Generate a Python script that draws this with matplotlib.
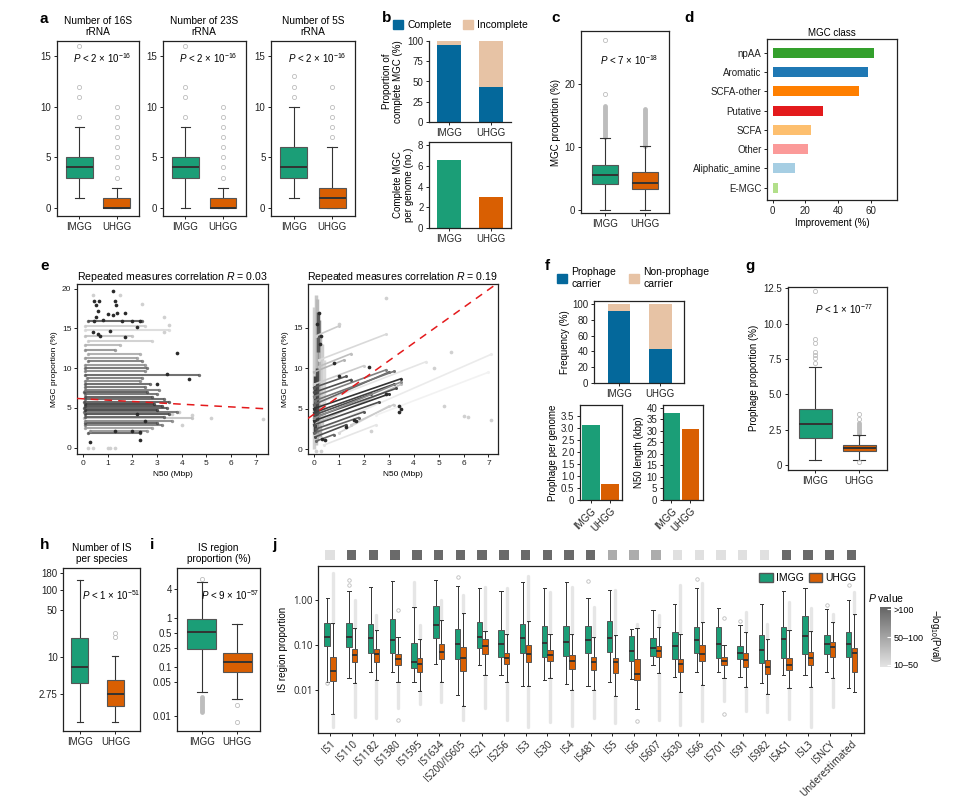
import numpy as np
import matplotlib
matplotlib.use("Agg")
import matplotlib.pyplot as plt
import matplotlib.transforms as mtransforms
from matplotlib.patches import Patch
from matplotlib.colors import LinearSegmentedColormap

plt.rcParams["font.family"] = ["Liberation Sans", "DejaVu Sans"]
plt.rcParams["font.size"] = 7
plt.rcParams["mathtext.fontset"] = "custom"
plt.rcParams["mathtext.rm"] = "Liberation Sans"
plt.rcParams["mathtext.it"] = "Liberation Sans:italic"

W, H = 967, 805
GREEN = "#1b9e77"
ORANGE = "#d95f02"
BLUE = "#04689b"
PEACH = "#e7c3a5"
FLIER = "#bdbdbd"
STREAK = "#e6e6e6"

groups = ["IMGG", "UHGG"]

# ---- a: rRNA copy numbers (whislo, q1, med, q3, whishi)
rrna_titles = ["Number of 16S\nrRNA", "Number of 23S\nrRNA", "Number of 5S\nrRNA"]
rrna_imgg = [(1, 3, 4, 5, 8), (0, 3, 4, 5, 8), (1, 3, 4, 6, 10)]
rrna_uhgg = [(0, 0, 0, 1, 2), (0, 0, 0, 1, 2), (0, 0, 1, 2, 6)]
rrna_imgg_fliers = [[9, 11, 12, 16], [9, 11, 12, 16], [11, 12, 13]]
rrna_uhgg_fliers = [[3, 4, 5, 6, 7, 8, 9, 10], [3, 4, 5, 6, 7, 8, 9, 10], [7, 8, 9, 10, 12]]

# ---- b: MGC completeness
mgc_complete_pct = [95, 43]
mgc_complete_per_genome = [6.55, 3.0]

# ---- c: MGC proportion
mgc_prop_imgg = (0.0, 4.1, 5.5, 7.1, 11.4)
mgc_prop_uhgg = (0.0, 3.3, 4.3, 6.0, 10.1)
mgc_prop_imgg_fliers = [18.4, 27.0]
mgc_prop_imgg_streak = (11.5, 16.5)
mgc_prop_uhgg_streak = (10.2, 16.0)

# ---- d: MGC class improvement
mgc_classes = ["npAA", "Aromatic", "SCFA-other", "Putative", "SCFA", "Other",
               "Aliphatic_amine", "E-MGC"]
mgc_improve = [62, 58.5, 53, 30.5, 23.5, 21.5, 13.5, 3]
mgc_colors = ["#33a02c", "#1f78b4", "#ff7f00", "#e31a1c", "#fdbf6f", "#fb9a99",
              "#a6cee3", "#b2df8a"]

# ---- e: repeated-measures correlation (species lines: y, x start, x end, gray level)
e1_y = [1.9, 2.1, 2.5, 2.8, 3.1, 3.4, 3.7, 3.9, 4.2, 4.5, 4.7, 5.0, 5.3, 5.5, 5.8, 6.1,
        6.4, 6.7, 7.0, 7.3, 7.6, 8.0, 8.4, 8.8, 9.2, 9.6, 10.0, 10.4, 10.9, 11.3, 11.8,
        12.3, 12.9, 13.4, 14.0, 14.8, 15.3, 15.9]
e1_x0 = [0.2, 0.3, 0.1, 0.1, 0.1, 0.1, 0.05, 0.1, 0.1, 0.05, 0.1, 0.05, 0.1, 0.1, 0.05, 0.1,
         0.1, 0.1, 0.05, 0.1, 0.1, 0.1, 0.1, 0.15, 0.1, 0.1, 0.1, 0.1, 0.2, 0.1, 0.2,
         0.1, 0.1, 0.2, 0.1, 0.1, 0.1, 0.2]
e1_x1 = [2.3, 2.6, 2.8, 3.2, 3.0, 3.6, 4.4, 3.3, 3.5, 3.8, 3.0, 3.4, 3.2, 2.9, 3.5, 3.3,
         2.8, 3.0, 2.6, 3.1, 2.5, 2.7, 2.3, 2.4, 4.7, 2.5, 2.6, 2.5, 2.4, 2.2, 2.3,
         1.3, 1.5, 2.8, 2.0, 3.5, 2.5, 2.4]
e1_shade = [0.35, 0.55, 0.6, 0.45, 0.3, 0.5, 0.75, 0.35, 0.25, 0.4, 0.2, 0.3, 0.25, 0.2,
            0.3, 0.35, 0.3, 0.4, 0.3, 0.45, 0.4, 0.35, 0.5, 0.45, 0.35, 0.5, 0.4, 0.55,
            0.45, 0.6, 0.65, 0.55, 0.7, 0.8, 0.75, 0.85, 0.8, 0.3]
e1_dark_x = [1.2, 0.45, 0.65, 0.55, 1.3, 1.35, 0.6, 1.7, 1.0, 1.2, 1.4, 0.55, 0.45, 0.8,
             1.6, 2.0, 2.3, 2.2, 0.4, 0.6, 0.7, 1.1, 1.7, 3.8, 3.4, 4.3, 3.0, 2.0, 2.3,
             2.3, 0.3, 1.3, 2.2, 2.5]
e1_dark_y = [19.7, 18.4, 18.4, 18.0, 18.5, 17.9, 17.2, 17.0, 16.8, 16.7, 16.9, 16.5, 16.0,
             16.1, 15.9, 15.9, 15.9, 15.2, 14.6, 14.3, 14.0, 14.7, 13.9, 11.9, 9.3, 8.6,
             8.0, 2.1, 2.0, 1.0, 0.7, 2.1, 4.2, 3.3]
e1_light_x = [0.2, 0.4, 1.0, 1.1, 1.3, 0.4, 1.5, 2.4, 3.3, 3.5, 3.3, 3.6, 7.3, 5.2, 4.4,
              3.9, 4.0]
e1_light_y = [0.0, 0.0, 0.0, 0.0, 0.0, 19.2, 19.2, 18.1, 16.5, 15.5, 14.6, 4.2, 3.6, 3.7,
              4.1, 4.5, 2.8]

e2_lines = [  # x0, y0, x1, y1, gray level
    (0.0, 5.0, 3.5, 8.7, 0.2), (0.0, 4.5, 3.2, 8.0, 0.25), (0.1, 4.0, 3.3, 7.5, 0.3),
    (0.0, 3.5, 3.0, 6.8, 0.2), (0.0, 3.0, 2.6, 5.8, 0.3), (0.0, 5.5, 3.0, 9.5, 0.4),
    (0.05, 6.0, 3.2, 9.6, 0.45), (0.0, 6.5, 2.9, 9.8, 0.5), (0.1, 2.5, 2.0, 4.6, 0.35),
    (0.0, 2.0, 1.8, 3.9, 0.4), (0.0, 7.0, 1.5, 8.6, 0.3), (0.0, 7.6, 1.3, 9.0, 0.35),
    (0.05, 1.5, 1.3, 3.0, 0.3), (0.1, 1.0, 0.8, 1.8, 0.4), (0.0, 4.2, 2.3, 6.8, 0.3),
    (0.0, 3.8, 3.5, 8.3, 0.55), (0.2, 11.0, 2.9, 14.2, 0.85), (0.1, 14.0, 1.0, 15.2, 0.8),
    (0.5, 2.8, 7.1, 11.7, 0.92), (1.0, 2.0, 3.0, 5.3, 0.85), (0.3, 5.8, 4.5, 10.8, 0.9),
    (0.0, 8.0, 2.0, 10.3, 0.8), (0.0, 9.5, 1.2, 11.0, 0.7), (0.1, 3.2, 3.5, 8.0, 0.75),
    (1.5, 3.0, 3.2, 5.5, 0.8), (0.2, 10.2, 1.5, 11.8, 0.75), (0.4, 0.5, 2.5, 3.0, 0.9),
    (2.5, 4.2, 7.0, 9.5, 0.95),
]
e2_band_x = [0.02, 0.08, 0.14, 0.2, 0.26, 0.32, 0.4, 0.12, 0.18, 0.05]
e2_band_y0 = [0.0, 0.5, 1.0, 2.0, 1.5, 3.0, 4.0, 3.5, 12.0, 2.0]
e2_band_y1 = [17.5, 19.0, 18.5, 16.0, 14.0, 13.0, 11.0, 10.0, 17.0, 9.0]
e2_band_shade = [0.82, 0.78, 0.72, 0.55, 0.7, 0.8, 0.85, 0.3, 0.35, 0.25]
e2_dark_x = [0.2, 0.15, 0.3, 0.25, 0.35, 0.45, 1.3, 1.6, 1.7, 2.2, 3.4, 3.4, 3.5, 1.0, 0.8, 2.9]
e2_dark_y = [16.8, 15.5, 14.0, 13.0, 1.2, 1.1, 2.7, 3.6, 3.5, 10.2, 5.3, 4.6, 5.0, 9.0, 10.7, 6.8]
e2_light_x = [2.9, 2.3, 5.2, 6.0, 7.1, 6.2, 0.1, 0.3, 1.0, 4.8, 5.5]
e2_light_y = [18.7, 2.2, 5.3, 4.1, 3.6, 4.0, -0.2, -0.2, 15.4, 10.0, 12.0]

e_titles = ["Repeated measures correlation $R$ = 0.03", "Repeated measures correlation $R$ = 0.19"]
e_fit_intercept = [6.15, 4.3]
e_fit_slope = [-0.17, 2.2]

# ---- f: prophage
prophage_carrier_pct = [91, 43]
prophage_per_genome = [3.13, 0.68]
prophage_n50_kbp = [37.7, 31.0]

# ---- g: prophage proportion
prop_imgg = (0.35, 1.9, 2.93, 3.95, 6.97)
prop_uhgg = (0.35, 1.02, 1.22, 1.45, 2.15)
prop_imgg_fliers = [7.2, 7.6, 7.8, 8.0, 8.6, 8.9, 12.3]
prop_uhgg_fliers = [0.25, 3.3, 3.6]
prop_uhgg_streak = (2.2, 3.0)

# ---- h: number of IS per species
is_num_imgg = (1.03, 4.0, 7.1, 18.9, 142)
is_num_uhgg = (1.03, 1.82, 2.77, 4.4, 10.2)
is_num_uhgg_fliers = [19.5, 23.0]

# ---- i: IS region proportion
is_reg_imgg = (0.032, 0.24, 0.52, 0.95, 5.6)
is_reg_uhgg = (0.023, 0.081, 0.13, 0.20, 0.75)
is_reg_imgg_fliers = [6.4]
is_reg_imgg_streak = (0.012, 0.025)
is_reg_uhgg_fliers = [0.017, 0.0076]

# ---- j: IS families
is_families = ["IS1", "IS110", "IS1182", "IS1380", "IS1595", "IS1634", "IS200/IS605", "IS21",
               "IS256", "IS3", "IS30", "IS4", "IS481", "IS5", "IS6", "IS607", "IS630", "IS66",
               "IS701", "IS91", "IS982", "ISAS1", "ISL3", "ISNCY", "Underestimated"]
j_imgg = [
    (0.0153, 0.094, 0.153, 0.308, 1.09), (0.0185, 0.092, 0.153, 0.303, 1.61),
    (0.0245, 0.0653, 0.141, 0.290, 1.98), (0.0245, 0.0675, 0.129, 0.372, 2.60),
    (0.0153, 0.0303, 0.0412, 0.109, 0.687), (0.0372, 0.141, 0.283, 0.736, 2.73),
    (0.0077, 0.0478, 0.103, 0.223, 2.05), (0.036, 0.0843, 0.150, 0.324, 1.82),
    (0.021, 0.0551, 0.107, 0.215, 1.61), (0.0125, 0.0653, 0.141, 0.288, 2.47),
    (0.017, 0.0551, 0.112, 0.26, 1.82), (0.0136, 0.056, 0.119, 0.26, 2.47),
    (0.0125, 0.0653, 0.129, 0.268, 1.09), (0.015, 0.0711, 0.141, 0.341, 1.67),
    (0.0176, 0.044, 0.075, 0.159, 0.223), (0.036, 0.0569, 0.0879, 0.146, 0.589),
    (0.0199, 0.0478, 0.0948, 0.191, 0.82), (0.0255, 0.0653, 0.129, 0.255, 1.82),
    (0.025, 0.052, 0.107, 0.25, 0.653), (0.0198, 0.048, 0.0675, 0.097, 0.273),
    (0.0146, 0.0405, 0.076, 0.167, 0.80), (0.0215, 0.0506, 0.133, 0.255, 1.58),
    (0.021, 0.064, 0.159, 0.441, 1.82), (0.0247, 0.064, 0.103, 0.167, 0.631),
    (0.0109, 0.053, 0.103, 0.191, 1.0),
]
j_uhgg = [
    (0.003, 0.0161, 0.027, 0.053, 0.303), (0.0141, 0.041, 0.060, 0.081, 0.234),
    (0.0170, 0.0426, 0.062, 0.082, 0.213), (0.015, 0.036, 0.048, 0.064, 0.15),
    (0.0095, 0.0255, 0.0372, 0.0506, 0.136), (0.015, 0.0478, 0.0711, 0.107, 0.353),
    (0.0045, 0.0263, 0.052, 0.089, 0.506), (0.022, 0.062, 0.097, 0.138, 0.205),
    (0.015, 0.0372, 0.0506, 0.068, 0.173), (0.0125, 0.0426, 0.062, 0.100, 0.341),
    (0.018, 0.044, 0.060, 0.0774, 0.173), (0.010, 0.0288, 0.044, 0.059, 0.173),
    (0.010, 0.0273, 0.0426, 0.0551, 0.153), (0.0075, 0.0234, 0.041, 0.0526, 0.167),
    (0.0037, 0.0167, 0.0224, 0.0497, 0.243), (0.0234, 0.055, 0.0734, 0.097, 0.255),
    (0.0092, 0.0247, 0.038, 0.0487, 0.173), (0.0129, 0.044, 0.063, 0.10, 0.33),
    (0.0186, 0.036, 0.045, 0.0551, 0.10), (0.0119, 0.033, 0.0464, 0.0653, 0.198),
    (0.0081, 0.0229, 0.033, 0.0464, 0.133), (0.0113, 0.0273, 0.036, 0.0506, 0.212),
    (0.0119, 0.036, 0.052, 0.0711, 0.205), (0.0182, 0.0551, 0.089, 0.114, 0.33),
    (0.0088, 0.0247, 0.0653, 0.0873, 0.489),
]
# dense outlier streaks (upper end above whisker, lower end below whisker), None = none
j_uhgg_streak_hi = [3.9, 1.0, 0.46, None, 0.28, 1.0, 1.29, 1.9, 1.82, 3.4, 1.53, 1.98, 0.711,
                    1.67, 0.30, 0.46, 2.1, 2.35, None, 0.53, 0.3, 0.92, 0.65, 0.5, 1.53]
j_uhgg_streak_lo = [0.0015, 0.0025, 0.0024, 0.004, 0.0048, 0.0055, 0.0022, 0.004, 0.0021,
                    0.0015, 0.0019, 0.0016, 0.0024, 0.0018, None, 0.0022, 0.0017, 0.002,
                    0.0057, 0.0035, 0.0033, 0.0023, 0.0015, 0.0041, None]
j_imgg_streak_hi = [None, None, None, None, 2.5, None, None, None, None, None, None, None, None,
                    None, None, None, None, None, None, None, None, None, None, None, None]
j_imgg_fliers = [[0.014], [2.2, 2.8], [], [], [], [], [3.2], [], [], [], [], [], [2.7], [], [],
                 [], [], [2.9], [], [0.34], [], [], [], [0.77], [2.2]]
j_uhgg_fliers = [[], [], [], [0.6, 0.0022], [], [], [], [], [], [], [], [], [], [], [0.002],
                 [], [], [], [0.4, 0.003], [], [], [], [], [], []]
j_pval_class = ["10-50", ">100", ">100", ">100", ">100", ">100", ">100", ">100", ">100", ">100",
                ">100", ">100", ">100", "50-100", "50-100", "50-100", "10-50", "10-50", "10-50",
                "10-50", "10-50", ">100", ">100", ">100", ">100"]
pval_colors = {">100": "#6a6a6a", "50-100": "#acacac", "10-50": "#e0e0e0"}


fig = plt.figure(figsize=(W / 100, H / 100), dpi=100)


def px_axes(x0, y0, x1, y1):
    return fig.add_axes([x0 / W, 1 - y1 / H, (x1 - x0) / W, (y1 - y0) / H])


def style(ax, fs=7):
    for s in ax.spines.values():
        s.set_linewidth(0.9)
        s.set_color("#222222")
    ax.tick_params(labelsize=fs, length=2.5, width=0.7, pad=1.5, colors="#222222")


def mkstats(v, fliers=()):
    return dict(whislo=v[0], q1=v[1], med=v[2], q3=v[3], whishi=v[4], fliers=list(fliers))


def boxes(ax, stats, positions, width, colors, cap=0.35, lw=0.8, ms=3):
    bp = ax.bxp(stats, positions=positions, widths=width, patch_artist=True,
                capwidths=width * cap,
                boxprops=dict(linewidth=lw, edgecolor="#555555"),
                medianprops=dict(color="#333333", linewidth=1.4),
                whiskerprops=dict(color="#333333", linewidth=lw),
                capprops=dict(color="#333333", linewidth=lw),
                flierprops=dict(marker="o", markersize=ms, markerfacecolor="none",
                                markeredgecolor=FLIER, markeredgewidth=0.6))
    for patch, c in zip(bp["boxes"], colors):
        patch.set_facecolor(c)
        patch.set_zorder(3)
    for m in bp["medians"]:
        m.set_zorder(4)
    return bp


def streak(ax, x, lo, hi, lw=3.0, color=FLIER):
    ax.vlines(x, lo, hi, colors=color, linewidth=lw, capstyle="round", zorder=1)


def ptext(ax, x, y, base, exp):
    ax.text(x, y, r"$P$ < " + base + r" × 10$^{" + exp + "}$", transform=ax.transAxes,
            ha="center", va="center", fontsize=7)


def letter(x, y, s):
    fig.text(x / W, 1 - y / H, s, fontsize=11, fontweight="bold", va="center", ha="left")


# ---------------- a
a_boxes = [(56.7, 139.3), (162.7, 245.7), (271, 355)]
for k, (x0, x1) in enumerate(a_boxes):
    ax = px_axes(x0, 41, x1, 216)
    style(ax)
    boxes(ax, [mkstats(rrna_imgg[k], rrna_imgg_fliers[k]),
               mkstats(rrna_uhgg[k], rrna_uhgg_fliers[k])], [0, 1], 0.71, [GREEN, ORANGE])
    ax.set_xlim(-0.6, 1.6)
    ax.set_ylim(-0.8, 16.5)
    ax.set_yticks([0, 5, 10, 15])
    ax.set_xticks([0, 1], groups)
    ax.set_title(rrna_titles[k], fontsize=7.3, pad=4, linespacing=1.2)
    ptext(ax, 0.55, 0.9, "2", "-16")
letter(40, 19, "a")

# ---------------- b
ax = px_axes(429, 41, 511, 122)
style(ax)
x = np.arange(2)
ax.bar(x, mgc_complete_pct, 0.56, color=BLUE)
ax.bar(x, [100 - v for v in mgc_complete_pct], 0.56, bottom=mgc_complete_pct, color=PEACH)
ax.set_xlim(-0.47, 1.47)
ax.set_ylim(0, 100)
ax.spines["top"].set_visible(False)
ax.spines["right"].set_visible(False)
ax.set_yticks([0, 25, 50, 75, 100])
ax.set_xticks(x, groups)
ax.set_ylabel("Proportion of\ncomplete MGC (%)", fontsize=7, labelpad=3, linespacing=1.1)
fig.legend(handles=[Patch(color=BLUE, label="Complete"), Patch(color=PEACH, label="Incomplete")],
           loc="center left", bbox_to_anchor=(393 / W, 1 - 25 / H), ncol=2, frameon=False,
           handlelength=1.0, handleheight=1.0, handletextpad=0.4, columnspacing=1.0,
           fontsize=7.5, borderpad=0, borderaxespad=0)

ax = px_axes(429, 142, 511, 228)
style(ax)
ax.bar(x, mgc_complete_per_genome, 0.56, color=[GREEN, ORANGE])
ax.set_xlim(-0.47, 1.47)
ax.set_ylim(0, 8.3)
ax.set_yticks([0, 2, 4, 6, 8])
ax.set_xticks(x, groups)
ax.set_ylabel("Complete MGC\nper genome (no.)", fontsize=7, labelpad=3, linespacing=1.1)
letter(382, 18, "b")

# ---------------- c
ax = px_axes(581, 31, 669, 213)
style(ax)
streak(ax, 0, *mgc_prop_imgg_streak, lw=3.5)
streak(ax, 1, *mgc_prop_uhgg_streak, lw=3.5)
boxes(ax, [mkstats(mgc_prop_imgg, mgc_prop_imgg_fliers), mkstats(mgc_prop_uhgg)], [0, 1], 0.67,
      [GREEN, ORANGE])
ax.set_xlim(-0.6, 1.6)
ax.set_ylim(-0.5, 28.4)
ax.set_yticks([0, 10, 20])
ax.set_xticks([0, 1], groups)
ax.set_ylabel("MGC proportion (%)", fontsize=7, labelpad=3)
ptext(ax, 0.55, 0.84, "7", "-18")
letter(551, 18, "c")

# ---------------- d
ax = px_axes(767, 39, 897, 200)
style(ax)
yy = np.arange(len(mgc_classes))
ax.barh(yy, mgc_improve, height=0.52, color=mgc_colors)
ax.set_ylim(len(mgc_classes) - 0.36, -0.71)
ax.set_xlim(-3.5, 76)
ax.set_yticks(yy, mgc_classes)
ax.set_xticks([0, 20, 40, 60])
ax.set_title("MGC class", fontsize=7, pad=2)
ax.set_xlabel("Improvement (%)", fontsize=7, labelpad=2)
letter(684, 18, "d")

# ---------------- e
e_axes = [(77, 268, (-0.24, 7.5), (-0.8, 20.6)), (308, 497.7, (-0.23, 7.37), (-0.6, 20.4))]
for k, (x0, x1, xl, yl) in enumerate(e_axes):
    ax = px_axes(x0, 284, x1, 454)
    style(ax, fs=6)
    if k == 0:
        for yv, a0, a1, sh in zip(e1_y, e1_x0, e1_x1, e1_shade):
            ax.plot([a0, a1], [yv, yv], color=str(sh), lw=1.5, alpha=0.85, zorder=2,
                    marker="o", ms=2.4, mec="none", solid_capstyle="butt")
        ax.scatter(e1_light_x, e1_light_y, s=7, color="#d0d0d0", lw=0, zorder=1)
        ax.scatter(e1_dark_x, e1_dark_y, s=7, color="#2a2a2a", lw=0, zorder=3)
        ax.set_yticks([0, 5, 10, 15, 20])
    else:
        for bx, b0, b1, sh in zip(e2_band_x, e2_band_y0, e2_band_y1, e2_band_shade):
            ax.vlines(bx, b0, b1, colors=str(sh), linewidth=2.5, zorder=1)
        for a0, b0, a1, b1, sh in e2_lines:
            ax.plot([a0, a1], [b0, b1], color=str(sh), lw=1.2, zorder=2 if sh < 0.6 else 1.5,
                    marker="o", ms=2.2, mec="none")
        ax.scatter(e2_light_x, e2_light_y, s=7, color="#d0d0d0", lw=0, zorder=1)
        ax.scatter(e2_dark_x, e2_dark_y, s=7, color="#2a2a2a", lw=0, zorder=3)
        ax.set_yticks([0, 5, 10, 15])
    xs = np.array(xl)
    ax.plot(xs, e_fit_intercept[k] + e_fit_slope[k] * xs, color="#e41a1c", lw=1.1,
            dashes=(5, 4), zorder=4)
    ax.set_xlim(*xl)
    ax.set_ylim(*yl)
    ax.set_xticks(range(8))
    ax.set_title(e_titles[k], fontsize=7.6, pad=3)
    ax.set_xlabel("N50 (Mbp)", fontsize=6, labelpad=3)
    ax.set_ylabel("MGC proportion (%)", fontsize=6, labelpad=3)
letter(40, 266, "e")

# ---------------- f
ax = px_axes(594, 301, 684, 383)
style(ax)
ax.bar(x, prophage_carrier_pct, 0.54, color=BLUE)
ax.bar(x, [100 - v for v in prophage_carrier_pct], 0.54, bottom=prophage_carrier_pct, color=PEACH)
ax.set_xlim(-0.6, 1.57)
ax.set_ylim(0, 103.8)
ax.set_yticks(range(0, 101, 20))
ax.set_xticks(x, groups)
ax.set_ylabel("Frequency (%)", fontsize=7, labelpad=2)
fig.legend(handles=[Patch(color=BLUE, label="Prophage\ncarrier"),
                    Patch(color=PEACH, label="Non-prophage\ncarrier")],
           loc="center left", bbox_to_anchor=(557 / W, 1 - 278 / H), ncol=2, frameon=False,
           handlelength=1.0, handleheight=1.0, handletextpad=0.4, columnspacing=1.2,
           fontsize=7.5, borderpad=0, borderaxespad=0, labelspacing=0.2)

ax = px_axes(580, 405, 621.7, 500)
style(ax)
ax.bar(x, prophage_per_genome, 0.94, color=[GREEN, ORANGE])
ax.set_xlim(-0.56, 1.59)
ax.set_ylim(0, 3.95)
ax.set_yticks(np.arange(0, 3.6, 0.5), ["0", "0.5", "1.0", "1.5", "2.0", "2.5", "3.0", "3.5"])
ax.set_xticks(x, groups, rotation=45, ha="right", rotation_mode="anchor")
ax.set_ylabel("Prophage per genome", fontsize=7, labelpad=2)

ax = px_axes(662.7, 405, 702.7, 500)
style(ax)
ax.bar(x, prophage_n50_kbp, 0.9, color=[GREEN, ORANGE])
ax.set_xlim(-0.45, 1.64)
ax.set_ylim(0, 41.3)
ax.set_yticks(range(0, 41, 5))
ax.set_xticks(x, groups, rotation=45, ha="right", rotation_mode="anchor")
ax.set_ylabel("N50 length (kbp)", fontsize=7, labelpad=2)
letter(545, 266, "f")

# ---------------- g
ax = px_axes(787.7, 286.7, 886.7, 470)
style(ax)
streak(ax, 1, *prop_uhgg_streak, lw=3.5)
boxes(ax, [mkstats(prop_imgg, prop_imgg_fliers), mkstats(prop_uhgg, prop_uhgg_fliers)], [0, 1],
      0.75, [GREEN, ORANGE])
ax.set_xlim(-0.62, 1.62)
ax.set_ylim(-0.33, 12.6)
ax.set_yticks([0, 2.5, 5, 7.5, 10, 12.5], ["0", "2.5", "5.0", "7.5", "10.0", "12.5"])
ax.set_xticks([0, 1], groups)
ax.set_ylabel("Prophage proportion (%)", fontsize=7, labelpad=3)
ptext(ax, 0.57, 0.88, "1", "-77")
letter(745, 266, "g")

# ---------------- h
ax = px_axes(63.3, 567.7, 140, 731)
style(ax)
boxes(ax, [mkstats(is_num_imgg), mkstats(is_num_uhgg, is_num_uhgg_fliers)], [0, 1], 0.49,
      [GREEN, ORANGE])
ax.set_yscale("log")
ax.set_xlim(-0.46, 1.69)
ax.set_ylim(0.764, 218)
ax.set_yticks([2.75, 10, 50, 100, 180], ["2.75", "10", "50", "100", "180"])
ax.minorticks_off()
ax.set_xticks([0, 1], groups)
ax.set_title("Number of IS\nper species", fontsize=7.3, pad=4, linespacing=1.2)
ptext(ax, 0.63, 0.83, "1", "-51")
letter(40, 545, "h")

# ---------------- i
ax = px_axes(177.3, 567.7, 260, 731)
style(ax)
streak(ax, 0, *is_reg_imgg_streak, lw=3.5)
boxes(ax, [mkstats(is_reg_imgg, is_reg_imgg_fliers), mkstats(is_reg_uhgg, is_reg_uhgg_fliers)],
      [0, 1], 0.81, [GREEN, ORANGE])
ax.set_yscale("log")
ax.set_xlim(-0.69, 1.64)
ax.set_ylim(0.005, 10.8)
ax.set_yticks([0.01, 0.05, 0.1, 0.25, 0.5, 1, 4], ["0.01", "0.05", "0.1", "0.25", "0.5", "1", "4"])
ax.minorticks_off()
ax.set_xticks([0, 1], groups)
ax.set_title("IS region\nproportion (%)", fontsize=7.3, pad=4, linespacing=1.2)
ptext(ax, 0.64, 0.83, "9", "-57")
letter(150, 545, "i")

# ---------------- j
ax = px_axes(318.3, 565.7, 864, 733.3)
style(ax, fs=6.5)
pos = np.arange(len(is_families))
off = 0.13
for k in pos:
    if j_uhgg_streak_hi[k] is not None:
        streak(ax, k + off, j_uhgg[k][4], j_uhgg_streak_hi[k], lw=2.4, color=STREAK)
    if j_uhgg_streak_lo[k] is not None:
        streak(ax, k + off, j_uhgg_streak_lo[k], j_uhgg[k][0], lw=2.4, color=STREAK)
    if j_imgg_streak_hi[k] is not None:
        streak(ax, k - off, j_imgg[k][4], j_imgg_streak_hi[k], lw=2.4, color=STREAK)
stats_i = [mkstats(v, f) for v, f in zip(j_imgg, j_imgg_fliers)]
stats_u = [mkstats(v, f) for v, f in zip(j_uhgg, j_uhgg_fliers)]
boxes(ax, stats_i, pos - off, 0.25, [GREEN] * len(pos), cap=0.6, lw=0.7, ms=2.5)
boxes(ax, stats_u, pos + off, 0.25, [ORANGE] * len(pos), cap=0.6, lw=0.7, ms=2.5)
ax.set_yscale("log")
ax.set_xlim(-0.54, 24.58)
ax.set_ylim(0.00109, 5.78)
ax.set_yticks([0.01, 0.1, 1], ["0.01", "0.10", "1.00"])
ax.minorticks_off()
ax.set_xticks(pos, is_families, rotation=45, ha="right", rotation_mode="anchor")
for lab in ax.get_xticklabels() + ax.get_yticklabels():
    lab.set_fontfamily(["Open Sans", "DejaVu Sans"])
    lab.set_fontsize(7)
ax.set_ylabel("IS region proportion", fontsize=7, labelpad=4)
trans = mtransforms.blended_transform_factory(ax.transData, ax.transAxes)
ax.scatter(pos, [1.064] * len(pos), marker="s", s=46, lw=0,
           color=[pval_colors[c] for c in j_pval_class], transform=trans, clip_on=False)
ax.legend(handles=[Patch(facecolor=GREEN, edgecolor="#555555", label="IMGG"),
                   Patch(facecolor=ORANGE, edgecolor="#555555", label="UHGG")],
          loc="upper right", ncol=2, frameon=False, fontsize=7.5, handlelength=1.3,
          handleheight=0.9, handletextpad=0.3, columnspacing=0.5, borderaxespad=0.3)
letter(272, 545, "j")

# P-value colour key
cax = px_axes(880, 607, 891, 667)
gray_cmap = LinearSegmentedColormap.from_list("pv", ["#e4e4e4", "#636363"])
cax.imshow(np.linspace(0, 1, 100)[:, None], aspect="auto", cmap=gray_cmap, origin="lower",
           extent=[0, 1, 0, 1])
cax.set_xticks([])
cax.yaxis.tick_right()
cax.set_yticks([0.04, 0.5, 0.96], ["10–50", "50–100", ">100"])
cax.tick_params(axis="y", direction="in", length=3, width=0.8, color="white", labelsize=6.5, pad=2)
for s in cax.spines.values():
    s.set_visible(False)
fig.text(868 / W, 1 - 598 / H, r"$P$ value", fontsize=7.5, va="center", ha="left")
fig.text(935 / W, 1 - 636 / H, "−log$_{10}$(Pval)", fontsize=7, rotation=270,
         va="center", ha="center")

fig.savefig("out.png", dpi=100)
